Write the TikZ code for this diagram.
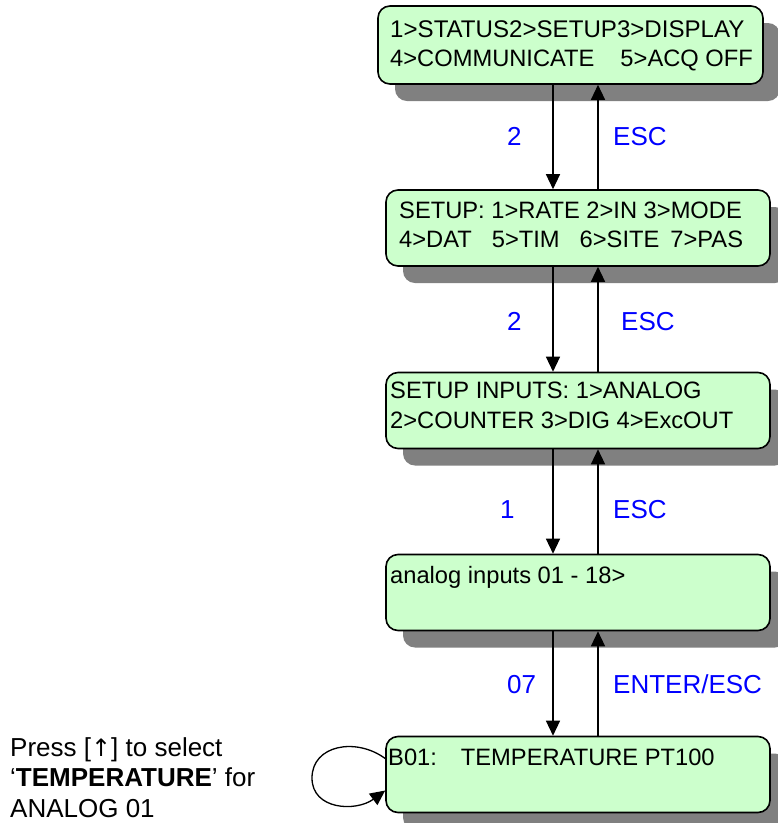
\documentclass[tikz,border=0pt]{standalone}
\usepackage{fontspec}
\setmainfont{Liberation Sans}
\newfontfamily\arrowfont{DejaVu Sans}
\usetikzlibrary{arrows.meta,shadows}
\definecolor{lcdgreen}{HTML}{CCFFCC}
\definecolor{shadowgray}{HTML}{808080}
\definecolor{keyblue}{HTML}{0000FF}
\begin{document}
\begin{tikzpicture}[x=1pt,y=-1pt,
  screen/.style={draw=black, line width=1.6pt, fill=lcdgreen, rounded corners=12pt,
    minimum width=384pt, minimum height=76pt, inner sep=0pt,
    drop shadow={shadow xshift=17pt, shadow yshift=-17pt, fill=shadowgray, opacity=1}},
  lcd/.style={anchor=base west, inner sep=0pt, font=\fontsize{23.7}{28}\selectfont},
  key/.style={anchor=base west, inner sep=0pt, text=keyblue, font=\fontsize{26}{30}\selectfont},
  note/.style={anchor=base west, inner sep=0pt, font=\fontsize{26}{30}\selectfont},
  arr/.style={line width=1.3pt, -{Triangle[width=14pt,length=15pt]}}]
\useasboundingbox (0,0) rectangle (778,823);

% menu screens
\node[screen, minimum width=385pt, minimum height=78pt] (b1) at (570.5,45) {};
\node[screen] (b2) at (578,228) {};
\node[screen] (b3) at (578,410.5) {};
\node[screen] (b4) at (578,592.5) {};
\node[screen] (b5) at (578,774.5) {};

% screen contents
\node[lcd, font=\fontsize{24.1}{28}\selectfont] (t1a) at (390,37) {1>STATUS2>SETUP3>DISPLAY};
\node[lcd] (t1b) at (390,66) {4>COMMUNICATE\hspace{26pt}5>ACQ OFF};
\node[lcd] (t2a) at (399,218) {SETUP: 1>RATE 2>IN 3>MODE};
\node[lcd] (t2b) at (399,247) {4>DAT\hspace{20pt}5>TIM\hspace{20pt}6>SITE\hspace{11pt}7>PAS};
\node[lcd] (t3a) at (390,398) {SETUP INPUTS: 1>ANALOG};
\node[lcd] (t3b) at (390,428) {2>COUNTER 3>DIG 4>ExcOUT};
\node[lcd] (t4) at (390,583) {analog inputs 01 - 18>};
\node[lcd] (t5) at (388,765) {B01:\hspace{24pt}TEMPERATURE PT100};

% columns of the down and up connectors
\coordinate (dn) at (553,0);
\coordinate (up) at (598,0);

\draw[arr] (b1.south -| dn) -- (b2.north -| dn);
\draw[arr] (b2.north -| up) -- (b1.south -| up);
\draw[arr] (b2.south -| dn) -- (b3.north -| dn);
\draw[arr] (b3.north -| up) -- (b2.south -| up);
\draw[arr] (b3.south -| dn) -- (b4.north -| dn);
\draw[arr] (b4.north -| up) -- (b3.south -| up);
\draw[arr] (b4.south -| dn) -- (b5.north -| dn);
\draw[arr] (b5.north -| up) -- (b4.south -| up);

% key labels
\node[key] (k1d) at (507,145) {2};
\node[key] (k1u) at (613,145) {ESC};
\node[key] (k2d) at (507,330) {2};
\node[key] (k2u) at (621,330) {ESC};
\node[key] (k3d) at (500,518) {1};
\node[key] (k3u) at (613,518) {ESC};
\node[key] (k4d) at (507,693) {07};
\node[key] (k4u) at (613,693) {ENTER/ESC};

% self loop on the last screen
\coordinate (loopL) at (312,778);
\draw[arr] ([yshift=16pt]b5.west) .. controls (356,737) and (312,745) .. (loopL)
  .. controls (312,810) and (356,812) .. ([yshift=-16pt]b5.west);

% note
\node[note] (n1) at (10,756) {Press [{\arrowfont\fontsize{24}{30}\selectfont ↑}] to select};
\node[note] (n2) at (10,786) {‘\textbf{TEMPERATURE}’ for};
\node[note] (n3) at (10,817) {ANALOG 01};
\end{tikzpicture}
\end{document}
